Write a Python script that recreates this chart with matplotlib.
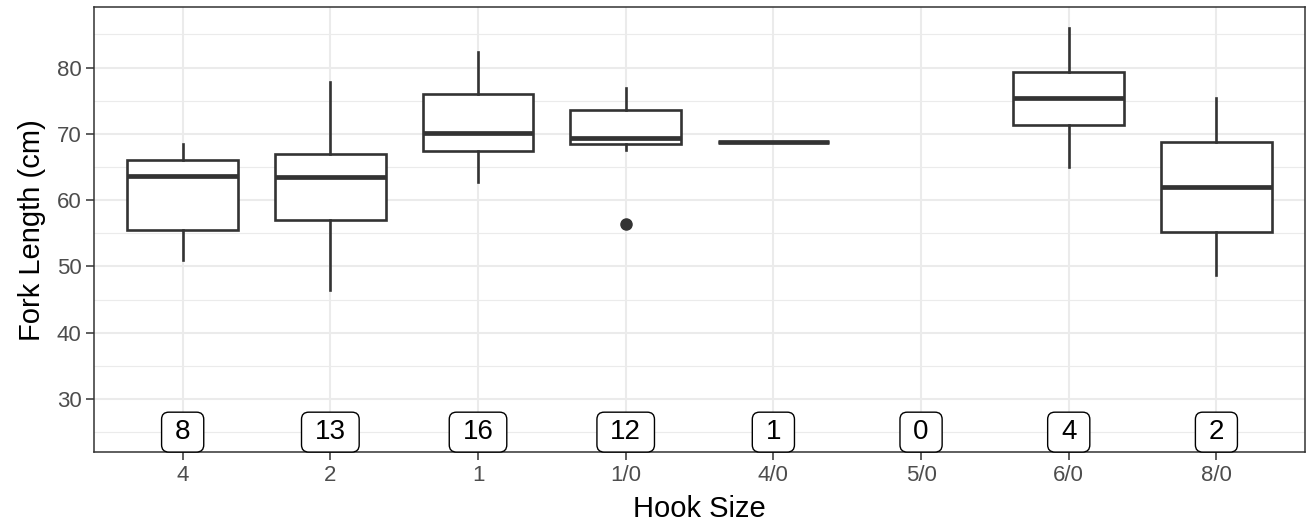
import numpy as np
from matplotlib import pyplot as plt
from matplotlib.path import Path

plt.rcParams['font.family'] = ['Liberation Sans', 'DejaVu Sans']

# data
hook_sizes = ["4", "2", "1", "1/0", "4/0", "5/0", "6/0", "8/0"]
counts = [8, 13, 16, 12, 1, 0, 4, 2]
whis_lo = [51.0, 46.5, 62.8, 67.6, 68.7, None, 65.0, 48.7]
q1 = [55.5, 57.0, 67.4, 68.4, 68.7, None, 71.35, 55.25]
med = [63.7, 63.55, 70.2, 69.4, 68.7, None, 75.4, 62.0]
q3 = [66.0, 67.0, 76.0, 73.6, 68.7, None, 79.4, 68.7]
whis_hi = [68.4, 77.9, 82.4, 76.9, 68.7, None, 86.0, 75.4]
outliers = [[], [], [], [56.45], [], [], [], []]
label_y = 25


def label_box(x0, y0, width, height, mutation_size):
    # rounded box like ggplot's geom_label, wider padding sideways
    padx = 0.48 * mutation_size
    pady = 0.25 * mutation_size
    dr = 0.26 * mutation_size
    x0, y0 = x0 - padx, y0 - pady
    x1, y1 = x0 + width + 2 * padx, y0 + height + 2 * pady
    verts = [(x0 + dr, y0), (x1 - dr, y0), (x1, y0), (x1, y0 + dr),
             (x1, y1 - dr), (x1, y1), (x1 - dr, y1), (x0 + dr, y1),
             (x0, y1), (x0, y1 - dr), (x0, y0 + dr), (x0, y0),
             (x0 + dr, y0), (x0 + dr, y0)]
    codes = [Path.MOVETO, Path.LINETO, Path.CURVE3, Path.CURVE3,
             Path.LINETO, Path.CURVE3, Path.CURVE3, Path.LINETO,
             Path.CURVE3, Path.CURVE3, Path.LINETO, Path.CURVE3,
             Path.CURVE3, Path.CLOSEPOLY]
    return Path(verts, codes)


pos = np.arange(1, len(hook_sizes) + 1)
stats = []
stat_pos = []
for i in range(len(hook_sizes)):
    if med[i] is None:
        continue
    stats.append(dict(whislo=whis_lo[i], q1=q1[i], med=med[i], q3=q3[i],
                      whishi=whis_hi[i], fliers=outliers[i]))
    stat_pos.append(pos[i])

dark = '#333333'
fig = plt.figure(figsize=(13.1, 5.24), dpi=100)
ax = fig.add_axes([0.0718, 0.1374, 0.9244, 0.8487])

ax.bxp(stats, positions=stat_pos, widths=0.75, patch_artist=True, showcaps=False,
       boxprops=dict(facecolor='white', edgecolor=dark, linewidth=1.9),
       whiskerprops=dict(color=dark, linewidth=1.9),
       medianprops=dict(color=dark, linewidth=3.4, solid_capstyle='butt'),
       flierprops=dict(marker='o', markerfacecolor=dark, markeredgecolor=dark,
                       markersize=8),
       zorder=3)

for p, n in zip(pos, counts):
    ax.text(p, label_y, str(n), ha='center', va='center', fontsize=20, color='black',
            zorder=4,
            bbox=dict(boxstyle=label_box, fc='white', ec='black', lw=1.0))

ax.set_xlim(0.4, 8.6)
ax.set_ylim(22.0, 89.1)
ax.set_xticks(pos)
ax.set_xticklabels(hook_sizes)
ax.set_yticks([30, 40, 50, 60, 70, 80])
ax.set_yticks(np.arange(25, 90, 10), minor=True)
ax.tick_params(axis='both', which='major', labelsize=16, labelcolor='#4D4D4D',
               color=dark, length=6, width=1.1, pad=3)
ax.tick_params(axis='y', which='minor', length=0)
ax.grid(True, which='major', color='#EBEBEB', linewidth=1.5, zorder=0)
ax.grid(True, which='minor', axis='y', color='#EBEBEB', linewidth=0.8, zorder=0)
ax.set_axisbelow(True)
for s in ax.spines.values():
    s.set_color(dark)
    s.set_linewidth(1.1)

ax.set_xlabel("Hook Size", fontsize=21, labelpad=7)
ax.set_ylabel("Fork Length (cm)", fontsize=21, labelpad=8)

plt.savefig("out.png", dpi=100)
